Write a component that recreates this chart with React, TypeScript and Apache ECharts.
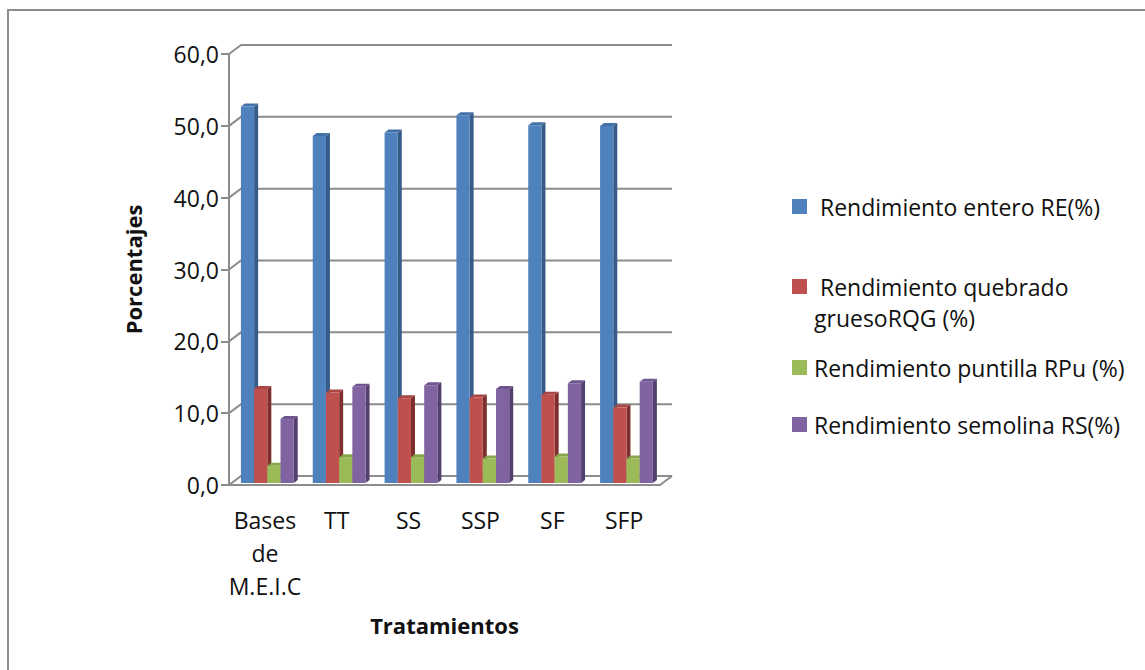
import React, { useEffect, useRef } from "react";
import * as echarts from "echarts";

const categories = ["Bases\nde\nM.E.I.C", "TT", "SS", "SSP", "SF", "SFP"];
const seriesNames = [
  "Rendimiento entero RE(%)",
  "Rendimiento quebrado gruesoRQG (%)",
  "Rendimiento puntilla RPu (%)",
  "Rendimiento semolina RS(%)",
];
const entero = [52.4, 48.3, 48.8, 51.2, 49.8, 49.7];
const quebrado = [13.1, 12.6, 11.8, 11.9, 12.3, 10.5];
const puntilla = [2.4, 3.6, 3.6, 3.4, 3.7, 3.4];
const semolina = [8.9, 13.4, 13.6, 13.1, 13.9, 14.1];
const yTicks = [0, 10, 20, 30, 40, 50, 60];

const frontColors = ["#4F81BD", "#C0504D", "#9BBB59", "#8064A2"];
const sideColors = ["#375C89", "#7E2F2D", "#6B8339", "#544070"];
const topColors = ["#4270A8", "#A94643", "#87A54B", "#6F5690"];

const DX = 12;
const DY = -9;
const AXIS = "#8C8C8C";
const FONT = "'Open Sans', Lato, sans-serif";

function barSeries(i: number, values: number[]) {
  return {
    type: "custom",
    name: seriesNames[i],
    z: 5 + i,
    clip: false,
    itemStyle: { color: frontColors[i] },
    encode: { x: 0, y: 1 },
    data: values.map((v, c) => [c, v]),
    renderItem: (_: any, api: any) => {
      const [cx, top] = api.coord([api.value(0), api.value(1)]);
      const w = 13.2;
      const x = cx - 24 + i * w;
      const yt = top - 2;
      const yb = api.coord([0, 0])[1] - 2;
      const dx = 4;
      const dy = -3;
      return {
        type: "group",
        children: [
          {
            type: "polygon",
            shape: { points: [[x + w, yt], [x + w + dx, yt + dy], [x + w + dx, yb + dy], [x + w, yb]] },
            style: { fill: sideColors[i] },
          },
          {
            type: "polygon",
            shape: { points: [[x, yt], [x + dx, yt + dy], [x + w + dx, yt + dy], [x + w, yt]] },
            style: { fill: topColors[i] },
          },
          { type: "rect", shape: { x, y: yt, width: w, height: yb - yt }, style: { fill: frontColors[i] } },
        ],
      };
    },
  };
}

const wallSeries = {
  type: "custom",
  name: "wall",
  z: 1,
  clip: false,
  silent: true,
  encode: { y: 0 },
  data: yTicks.map((t) => [t]),
  renderItem: (params: any, api: any) => {
    const y = api.coord([0, api.value(0)])[1];
    const g = params.coordSys;
    const line = { stroke: AXIS, lineWidth: 2, fill: "none" };
    const children: any[] = [
      {
        type: "polyline",
        shape: { points: [[g.x, y], [g.x + DX, y + DY], [g.x + g.width + DX, y + DY]] },
        style: line,
      },
    ];
    if (api.value(0) === 0) {
      children.push({
        type: "line",
        shape: { x1: g.x + g.width, y1: y, x2: g.x + g.width + DX, y2: y + DY },
        style: line,
      });
    }
    return { type: "group", children };
  },
};

function singleLegend(i: number, top: number, pad: number, label: string) {
  return {
    left: 792,
    top,
    padding: 0,
    itemWidth: 15,
    itemHeight: 15,
    icon: "rect",
    selectedMode: false,
    data: [seriesNames[i]],
    formatter: () => label,
    textStyle: { fontFamily: FONT, fontSize: 23, color: "#111", padding: [0, 0, 0, pad] },
  };
}

export default function App() {
  const ref = useRef<HTMLDivElement>(null);
  useEffect(() => {
    const chart = echarts.init(ref.current!, undefined, { renderer: "svg" });
    chart.setOption({
      animation: false,
      backgroundColor: "#fff",
      grid: { left: 229, right: 485, top: 54, bottom: 185, containLabel: false },
      legend: [
        singleLegend(0, 195, 8, seriesNames[0]),
        singleLegend(1, 275, 8, "Rendimiento quebrado"),
        singleLegend(2, 356, 2, seriesNames[2]),
        singleLegend(3, 413, 2, seriesNames[3]),
      ],
      xAxis: {
        type: "category",
        data: categories,
        name: "Tratamientos",
        nameLocation: "middle",
        nameGap: 129,
        nameTextStyle: { fontFamily: FONT, fontSize: 22, fontWeight: "bold", color: "#111" },
        axisLine: { lineStyle: { color: AXIS, width: 2 } },
        axisTick: { length: 8, lineStyle: { color: AXIS, width: 2 } },
        axisLabel: { fontFamily: FONT, fontSize: 23, color: "#111", lineHeight: 33, margin: 18, interval: 0 },
      },
      yAxis: {
        type: "value",
        min: 0,
        max: 60,
        interval: 10,
        name: "Porcentajes",
        nameLocation: "middle",
        nameRotate: 90,
        nameGap: 85,
        nameTextStyle: { fontFamily: FONT, fontSize: 22, fontWeight: "bold", color: "#111" },
        splitLine: { show: false },
        axisLine: { show: true, lineStyle: { color: AXIS, width: 2 } },
        axisTick: { show: true, length: 8, lineStyle: { color: AXIS, width: 2 } },
        axisLabel: {
          fontFamily: FONT,
          fontSize: 23,
          color: "#111",
          margin: 10,
          formatter: (v: number) => v.toFixed(1).replace(".", ","),
        },
      },
      graphic: [
        {
          type: "polyline",
          z: -1,
          shape: { points: [[8, 670], [8, 10], [1145, 10]] },
          style: { fill: "none", stroke: "#8C8C8C", lineWidth: 2 },
        },
        {
          type: "text",
          x: 814,
          y: 306,
          style: { text: "gruesoRQG (%)", fontFamily: FONT, fontSize: 23, fill: "#111" },
        },
      ],
      series: [
        wallSeries,
        barSeries(0, entero),
        barSeries(1, quebrado),
        barSeries(2, puntilla),
        barSeries(3, semolina),
      ],
    });
    return () => chart.dispose();
  }, []);
  return <div ref={ref} style={{ position: "absolute", left: 0, top: 0, width: 1145, height: 670 }} />;
}
